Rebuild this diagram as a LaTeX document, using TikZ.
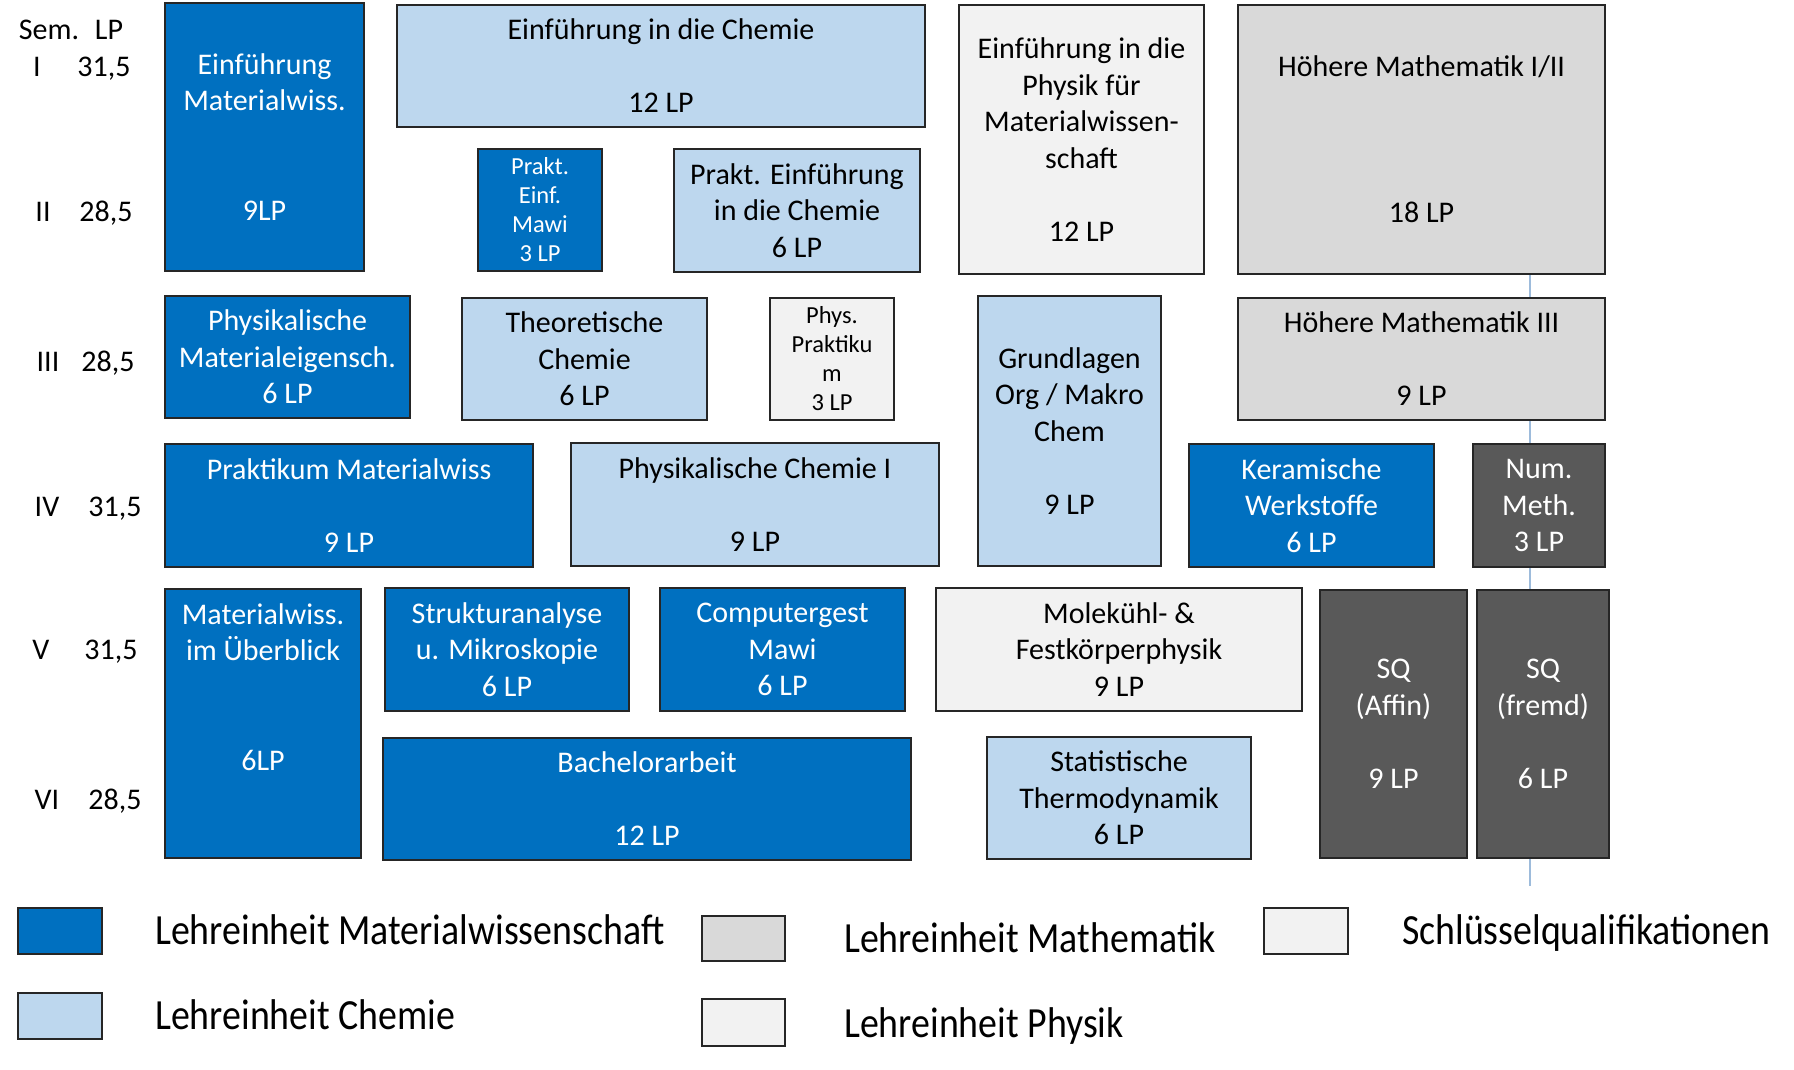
\documentclass[tikz,border=0pt]{standalone}
\usepackage{fontspec}
\setmainfont{Carlito}
\usepackage{graphicx}
\definecolor{mawi}{HTML}{0070C0}
\definecolor{chem}{HTML}{BDD7EE}
\definecolor{math}{HTML}{D9D9D9}
\definecolor{phys}{HTML}{F2F2F2}
\definecolor{sqcol}{HTML}{595959}
\definecolor{edgecol}{HTML}{262626}
\definecolor{vline}{HTML}{9DBBDB}
\tikzset{
  mod/.style={draw=edgecol, line width=2bp, inner sep=0pt, outer sep=0pt, anchor=north west, align=center, font=\fontsize{30bp}{36.5bp}\selectfont},
  mw/.style={mod, fill=mawi, text=white},
  ch/.style={mod, fill=chem, text=black},
  ma/.style={mod, fill=math, text=black},
  ph/.style={mod, fill=phys, text=black},
  sqbox/.style={mod, fill=sqcol, text=white},
  smalltxt/.style={font=\fontsize{24.5bp}{29bp}\selectfont},
  lab/.style={anchor=base, inner sep=0pt, font=\fontsize{30bp}{36bp}\selectfont},
  legbox/.style={draw=edgecol, line width=2bp, inner sep=0pt, outer sep=0pt, anchor=north west, minimum width=84bp, minimum height=46bp},
  legtxt/.style={anchor=base west, inner sep=0pt, font=\fontsize{43bp}{50bp}\selectfont},
}
\begin{document}
\begin{tikzpicture}[x=1bp, y=-1bp]
\useasboundingbox[fill=white] (0,0) rectangle (1794,1069);
% thin vertical line behind the boxes
\coordinate (vtop) at (1530,274);
\coordinate (vbot) at (1530,886);
\draw[vline, line width=1.3bp] (vtop) -- (vbot);

% semester labels
\node[lab] (semh) at (49,39) {Sem.};
\node[lab] (lph) at (109,39) {LP};
\node[lab] (s1) at (37,76) {I};
\node[lab] (p1) at (104,76) {31,5};
\node[lab] (s2) at (43,221) {II};
\node[lab] (p2) at (106,221) {28,5};
\node[lab] (s3) at (48,371) {III};
\node[lab] (p3) at (108,371) {28,5};
\node[lab] (s4) at (47,516) {IV};
\node[lab] (p4) at (115,516) {31,5};
\node[lab] (s5) at (41,659) {V};
\node[lab] (p5) at (111,659) {31,5};
\node[lab] (s6) at (47,809) {VI};
\node[lab] (p6) at (115,809) {28,5};

% row I / II
\node[mw, minimum width=199bp, minimum height=268bp] (emw) at (165,3) {Einführung\\Materialwiss.\\~\\~\\9LP};
\node[ch, minimum width=528bp, minimum height=122bp] (ec) at (397,5) {Einführung in die Chemie\\~\\12 LP};
\node[mw, smalltxt, minimum width=124bp, minimum height=122bp] (pem) at (478,149) {Prakt.\\Einf.\\Mawi\\3 LP};
\node[ch, minimum width=246bp, minimum height=123bp] (pec) at (674,149) {Prakt. Einführung\\in die Chemie\\6 LP};
\node[ph, minimum width=245bp, minimum height=269bp] (ep) at (959,5) {Einführung in die\\Physik für\\Materialwissen-\\schaft\\~\\12 LP};
\node[ma, minimum width=367bp, minimum height=269bp] (hm12) at (1238,5) {Höhere Mathematik I/II\\~\\~\\~\\18 LP};

% row III
\node[mw, minimum width=245bp, minimum height=122bp] (pme) at (165,296) {Physikalische\\Materialeigensch.\\6 LP};
\node[ch, minimum width=245bp, minimum height=122bp] (tc) at (462,298) {Theoretische\\Chemie\\6 LP};
\node[ph, smalltxt, minimum width=124bp, minimum height=122bp] (pp) at (770,298) {Phys.\\Praktiku\\m\\3 LP};
\node[ch, minimum width=183bp, minimum height=270bp] (gom) at (978,296) {Grundlagen\\Org / Makro\\Chem\\~\\9 LP};
\node[ma, minimum width=367bp, minimum height=122bp] (hm3) at (1238,298) {Höhere Mathematik III\\~\\9 LP};

% row IV
\node[mw, minimum width=368bp, minimum height=123bp] (pmw) at (165,444) {Praktikum Materialwiss\\~\\9 LP};
\node[ch, minimum width=368bp, minimum height=123bp] (pc1) at (571,443) {Physikalische Chemie I\\~\\9 LP};
\node[mw, minimum width=245bp, minimum height=123bp] (kw) at (1189,444) {Keramische\\Werkstoffe\\6 LP};
\node[sqbox, minimum width=132bp, minimum height=123bp] (nm) at (1473,444) {Num.\\Meth.\\3 LP};

% row V / VI
\node[mw, minimum width=196bp, minimum height=269bp] (mwu) at (165,589) {Materialwiss.\\im Überblick\\~\\~\\6LP\\~\\~};
\node[mw, minimum width=244bp, minimum height=123bp] (sam) at (385,588) {Strukturanalyse\\u. Mikroskopie\\6 LP};
\node[mw, minimum width=245bp, minimum height=123bp] (cgm) at (660,588) {Computergest\\Mawi\\6 LP};
\node[ph, minimum width=366bp, minimum height=123bp] (mfp) at (936,588) {Molekühl- \&\\Festkörperphysik\\9 LP};
\node[mw, minimum width=528bp, minimum height=122bp] (ba) at (383,738) {Bachelorarbeit\\~\\12 LP};
\node[ch, minimum width=264bp, minimum height=122bp] (st) at (987,737) {Statistische\\Thermodynamik\\6 LP};
\node[sqbox, minimum width=147bp, minimum height=268bp] (sqa) at (1320,590) {SQ\\(Affin)\\~\\9 LP};
\node[sqbox, minimum width=132bp, minimum height=268bp] (sqf) at (1477,590) {SQ\\(fremd)\\~\\6 LP};

% legend
\node[legbox, fill=mawi] (lg1) at (18,908) {};
\node[legbox, fill=chem] (lg2) at (18,993) {};
\node[legbox, fill=math, minimum width=83bp, minimum height=45bp] (lg3) at (702,916) {};
\node[legbox, fill=phys, minimum width=83bp, minimum height=47bp] (lg4) at (702,999) {};
\node[legbox, fill=phys] (lg5) at (1264,908) {};
\node[legtxt] (lt1) at (155,944) {\scalebox{0.88}[1]{Lehreinheit Materialwissenschaft}};
\node[legtxt] (lt2) at (155,1029) {\scalebox{0.88}[1]{Lehreinheit Chemie}};
\node[legtxt] (lt3) at (844,952) {\scalebox{0.88}[1]{Lehreinheit Mathematik}};
\node[legtxt] (lt4) at (844,1037) {\scalebox{0.88}[1]{Lehreinheit Physik}};
\node[legtxt] (lt5) at (1402,944) {\scalebox{0.88}[1]{Schlüsselqualifikationen}};
\end{tikzpicture}
\end{document}
